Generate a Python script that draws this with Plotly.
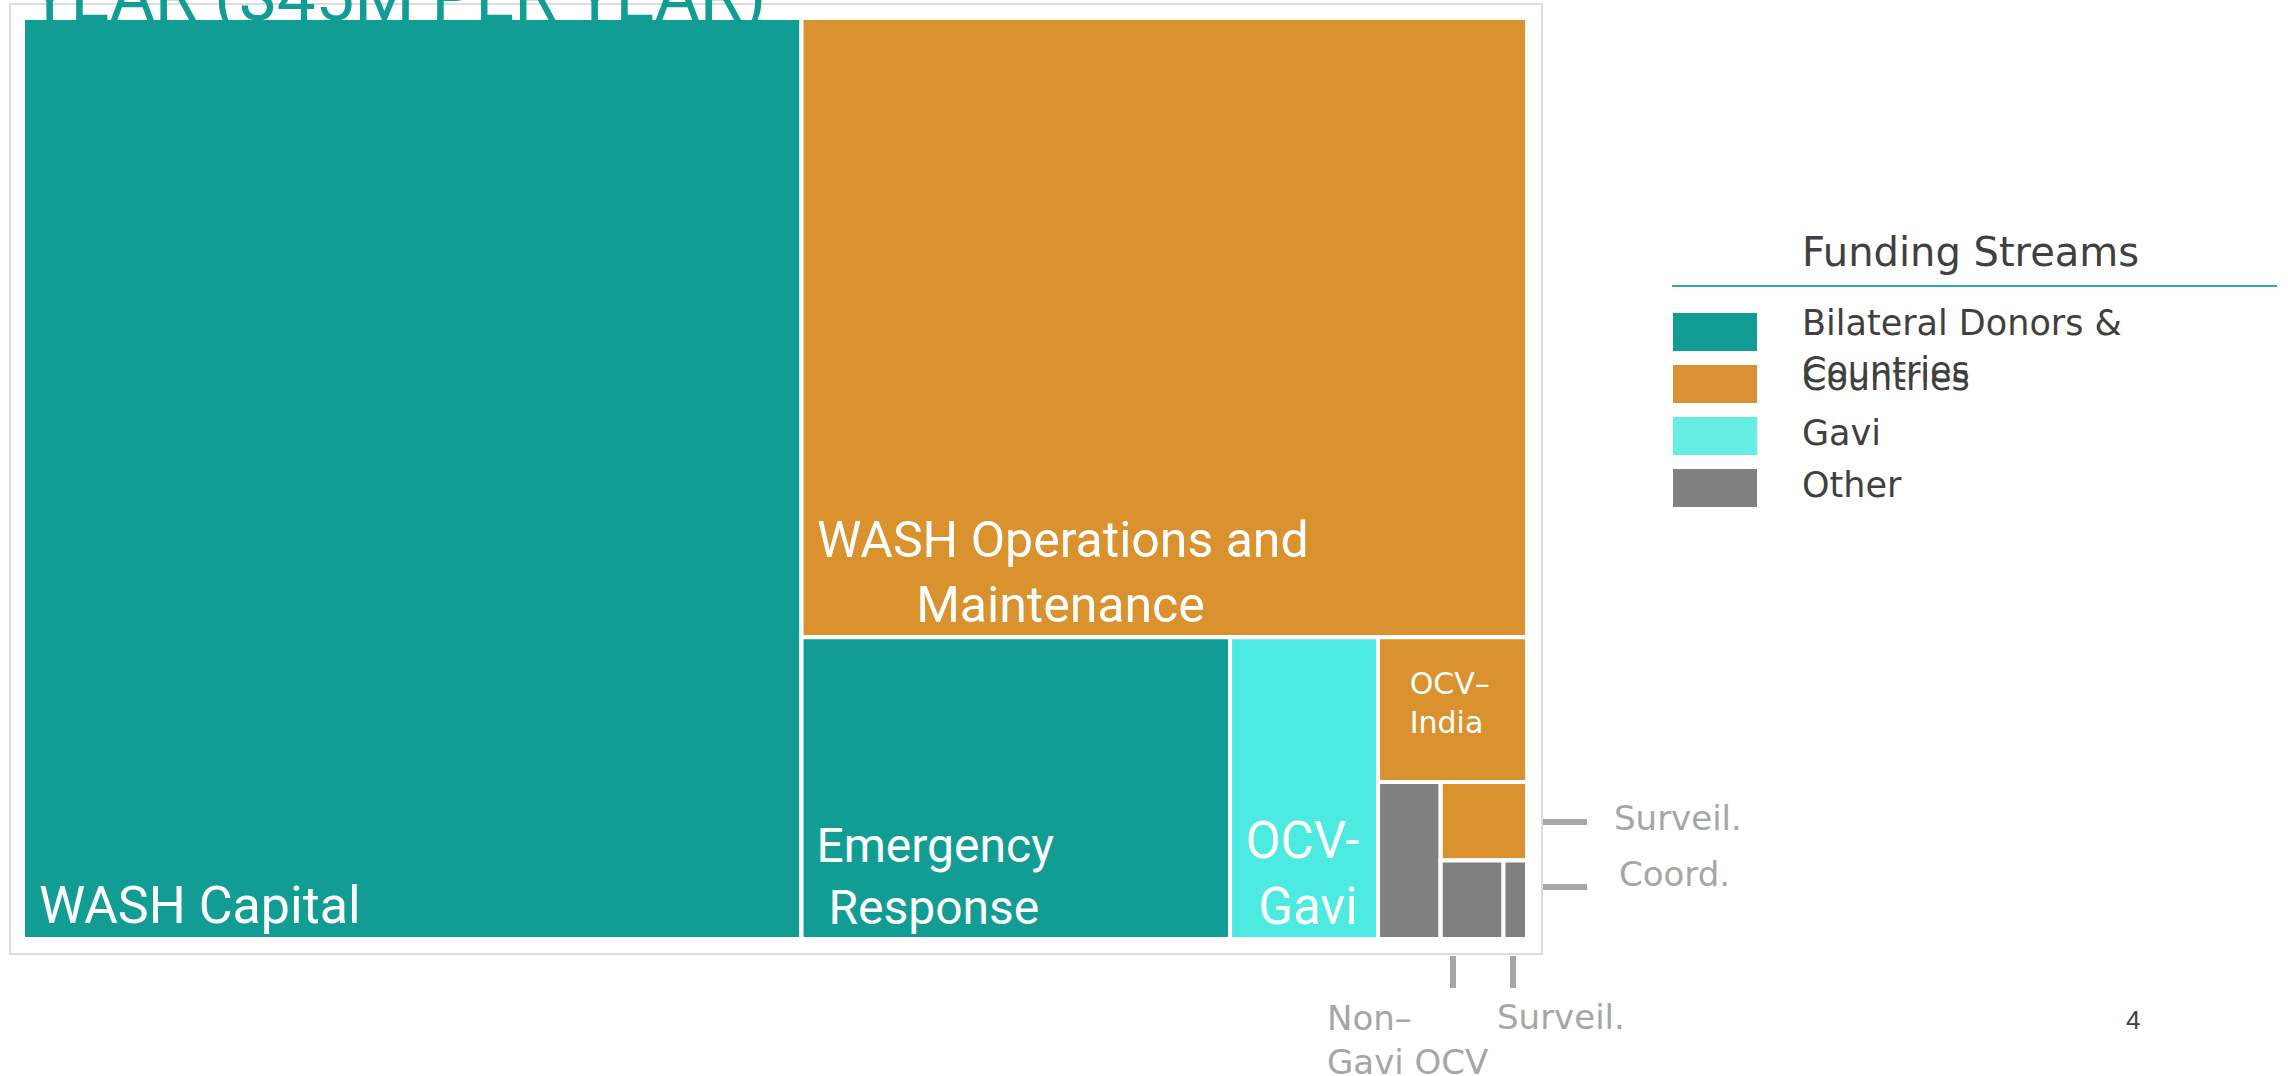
import plotly.graph_objects as go

W, H = 2288, 1076

# ---------------- data ($M per year) ----------------
node_ids = ["Total", "WASH Capital", "Rest", "WASH Operations and Maintenance", "Lower",
            "Emergency Response", "OCV-Gavi", "Small", "OCV-India", "Tiny",
            "Non-Gavi OCV", "Tiny right", "Surveillance (Countries)", "Tiny bottom",
            "Coordination", "Surveillance (Other)"]
parents = ["", "Total", "Total", "Rest", "Rest",
           "Lower", "Lower", "Lower", "Small", "Small",
           "Tiny", "Tiny", "Tiny right", "Tiny right",
           "Tiny bottom", "Tiny bottom"]
values = [0, 23.3, 0, 14.6, 0,
          4.2, 1.45, 0, 0.7, 0,
          0.32, 0, 0.22, 0,
          0.16, 0.06]
streams = [None, "Bilateral Donors & Countries", None, "Countries", None,
           "Bilateral Donors & Countries", "Gavi", None, "Countries", None,
           "Other", None, "Countries", None,
           "Other", "Other"]

legend_labels = ["Bilateral Donors & Countries", "Countries", "Gavi", "Other"]
legend_title = "Funding Streams"
title_text = "YEAR ($45M PER YEAR)"
page_number = "4"

# ---------------- styles ----------------
cell_colors = {"Bilateral Donors & Countries": "#129D94", "Countries": "#D9922E",
               "Gavi": "#4DEAE1", "Other": "#808080", None: "#FFFFFF"}
legend_colors = {"Bilateral Donors & Countries": "#129D94", "Countries": "#DA9135",
                 "Gavi": "#66EEE3", "Other": "#808080"}
COND = "Roboto, Liberation Sans, Arial, sans-serif"
SANS = "DejaVu Sans, Verdana, sans-serif"
NB = "\u00a0"

cell_text = {
    "WASH Capital": NB + "WASH Capital",
    "WASH Operations and Maintenance": NB + "WASH Operations and<br>" + NB * 9 + "Maintenance",
    "Emergency Response": NB + "Emergency<br>" + NB * 2 + "Response",
    "OCV-Gavi": NB + "OCV-<br>" + NB * 2 + "Gavi",
    "OCV-India": NB * 3 + "OCV–<br>" + NB * 3 + "India<br>" + NB,
}
text_size = {"WASH Capital": 52, "WASH Operations and Maintenance": 50,
             "Emergency Response": 48, "OCV-Gavi": 51, "OCV-India": 30}

texts = [cell_text.get(n, "") for n in node_ids]
sizes = [text_size.get(n, 20) for n in node_ids]
families = [SANS if n == "OCV-India" else COND for n in node_ids]
colors = [cell_colors[s] for s in streams]


def px(x):
    return x / W


def py(y):
    return 1 - y / H


fig = go.Figure()
fig.add_trace(go.Treemap(
    ids=node_ids, labels=node_ids, parents=parents, values=values,
    branchvalues="remainder", sort=False,
    text=texts, textinfo="text", textposition="bottom left",
    textfont=dict(color="white", size=sizes, family=families),
    marker=dict(colors=colors, line=dict(color="white", width=4),
                pad=dict(t=0, l=0, r=0, b=0)),
    tiling=dict(packing="slice-dice", pad=0),
    pathbar=dict(visible=False),
    hoverinfo="skip",
    domain=dict(x=[px(23), px(1527)], y=[py(939), py(18)]),
))

shapes = []
annotations = []

# frame around the chart
shapes.append(dict(type="rect", xref="paper", yref="paper",
                   x0=px(10), x1=px(1542), y0=py(954), y1=py(4),
                   line=dict(color="#DDDDDD", width=2), layer="below"))

# cut-off slide title
annotations.append(dict(text=title_text, xref="paper", yref="paper",
                        x=px(27), y=py(-4), xanchor="left", yanchor="middle",
                        showarrow=False,
                        font=dict(family=COND, size=69, color="#129D94")))

# callouts for tiny cells
CALL = "#A6A6A6"
for (x0, x1, y0, y1) in [(1543, 1587, 822, 822), (1543, 1587, 887, 887),
                         (1453, 1453, 956, 988), (1513, 1513, 956, 988)]:
    shapes.append(dict(type="line", xref="paper", yref="paper",
                       x0=px(x0), x1=px(x1), y0=py(y0), y1=py(y1),
                       line=dict(color=CALL, width=6)))
for (txt, x, y) in [("Surveil.", 1612, 818), ("Coord.", 1617, 874),
                    ("Non–<br>Gavi OCV", 1325, 1040), ("Surveil.", 1495, 1017)]:
    annotations.append(dict(text=txt, xref="paper", yref="paper",
                            x=px(x), y=py(y), xanchor="left", yanchor="middle",
                            align="left", showarrow=False,
                            font=dict(family=SANS, size=34, color=CALL)))

# legend
annotations.append(dict(text=legend_title, xref="paper", yref="paper",
                        x=px(1800), y=py(252), xanchor="left", yanchor="middle",
                        showarrow=False, font=dict(family=SANS, size=40, color="#404040")))
shapes.append(dict(type="line", xref="paper", yref="paper",
                   x0=px(1672), x1=px(2277), y0=py(286), y1=py(286),
                   line=dict(color="#2AAEA6", width=2)))
box_top, box_h, box_step = 313, 38, 52
for i, lab in enumerate(legend_labels):
    top = box_top + i * box_step
    shapes.append(dict(type="rect", xref="paper", yref="paper",
                       x0=px(1673), x1=px(1757), y0=py(top + box_h), y1=py(top),
                       fillcolor=legend_colors[lab], line=dict(width=0)))
    words = lab.split(" ")
    lines = [lab] if len(lab) < 20 else [" ".join(words[:3]), " ".join(words[3:])]
    for j, line in enumerate(lines):
        if len(lines) > 1:
            yc = top + box_h / 2 - 9 + j * 47
        elif lab == "Countries":
            yc = top + box_h / 2 - 6
        else:
            yc = top + box_h / 2 - 3
        annotations.append(dict(text=line, xref="paper", yref="paper",
                                x=px(1800), y=py(yc), xanchor="left", yanchor="middle",
                                showarrow=False,
                                font=dict(family=SANS, size=35, color="#404040")))

# page number
annotations.append(dict(text=page_number, xref="paper", yref="paper",
                        x=px(2133), y=py(1020), xanchor="center", yanchor="middle",
                        showarrow=False, font=dict(family="Liberation Sans, Arial", size=26,
                                                   color="#404040")))

fig.update_layout(width=W, height=H, margin=dict(l=0, r=0, t=0, b=0),
                  paper_bgcolor="white", plot_bgcolor="white",
                  shapes=shapes, annotations=annotations, showlegend=False)

fig.write_html("out.html", config={"displayModeBar": False},
               post_script="document.body.style.margin='0px';")
